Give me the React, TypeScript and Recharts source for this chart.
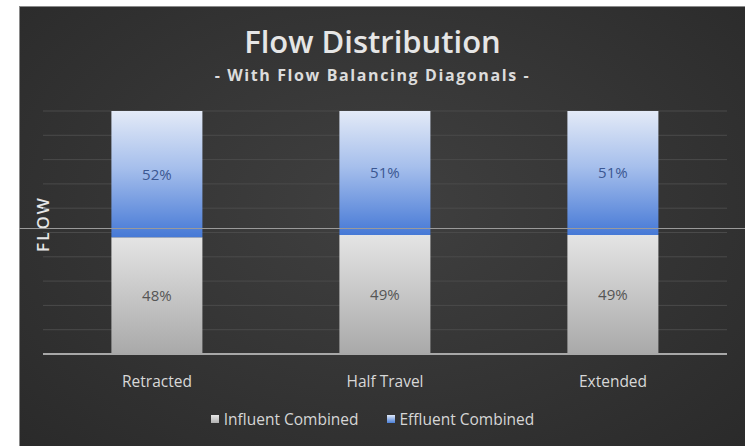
import React from 'react';
import { BarChart, Bar, XAxis, YAxis, CartesianGrid, LabelList } from 'recharts';

const categories = ['Retracted', 'Half Travel', 'Extended'];
const influent = [48, 49, 49];
const effluent = [52, 51, 51];
const seriesNames = ['Influent Combined', 'Effluent Combined'];
const yTicks = [0, 10, 20, 30, 40, 50, 60, 70, 80, 90, 100];

const data = categories.map((c, i) => ({ name: c, influent: influent[i], effluent: effluent[i] }));

const FONT = '"Open Sans", "Liberation Sans", sans-serif';

const LegendContent = () => (
  <div style={{ display: 'flex', justifyContent: 'center', gap: 28, fontFamily: FONT, fontSize: 15.5, color: '#d6d6d6' }}>
    <div style={{ display: 'flex', alignItems: 'center' }}>
      <span style={{ width: 8, height: 8, background: 'linear-gradient(#e6e6e6,#b0b0b0)', marginRight: 5, display: 'inline-block' }} />
      {seriesNames[0]}
    </div>
    <div style={{ display: 'flex', alignItems: 'center' }}>
      <span style={{ width: 8, height: 8, background: 'linear-gradient(#dfe8f8,#4a7fd8)', marginRight: 5, display: 'inline-block' }} />
      {seriesNames[1]}
    </div>
  </div>
);

const NoTick = () => <g />;

export default function App() {
  return (
    <div style={{ position: 'absolute', left: 0, top: 0, width: 745, height: 446, background: '#fff', overflow: 'hidden' }}>
      <div
        style={{
          position: 'absolute',
          left: 19,
          top: 6,
          width: 726,
          height: 440,
          borderTop: '1px solid #8a8a8a',
          borderLeft: '1px solid #8a8a8a',
          background: 'radial-gradient(ellipse at 50% 45%, #404040 0%, #353535 50%, #2a2a2a 100%)',
        }}
      />
      <div
        style={{
          position: 'absolute',
          left: 0,
          width: 745,
          top: 20,
          textAlign: 'center',
          fontFamily: FONT,
          fontSize: 31,
          fontWeight: 600,
          color: '#e6e6e6',
        }}
      >
        Flow Distribution
      </div>
      <div
        style={{
          position: 'absolute',
          left: 0,
          width: 745,
          top: 64,
          textAlign: 'center',
          fontFamily: FONT,
          fontSize: 16,
          fontWeight: 700,
          letterSpacing: 1.6,
          color: '#dcdcdc',
        }}
      >
        - With Flow Balancing Diagonals -
      </div>
      <div
        style={{
          position: 'absolute',
          left: 42,
          top: 224,
          transform: 'translate(-50%, -50%) rotate(-90deg)',
          fontFamily: FONT,
          fontSize: 17,
          fontWeight: 600,
          letterSpacing: 2,
          color: '#e6e6e6',
          whiteSpace: 'nowrap',
        }}
      >
        FLOW
      </div>
      <div style={{ position: 'absolute', left: 0, top: 0 }}>
        <BarChart
          width={745}
          height={446}
          data={data}
          margin={{ top: 111, right: 18, bottom: 62, left: 43 }}
          barCategoryGap="30%"
        >
          <defs>
            <linearGradient id="gInf" x1="0" y1="0" x2="0" y2="1">
              <stop offset="0%" stopColor="#e4e4e4" />
              <stop offset="100%" stopColor="#a9a9a9" />
            </linearGradient>
            <linearGradient id="gEff" x1="0" y1="0" x2="0" y2="1">
              <stop offset="0%" stopColor="#e3eaf7" />
              <stop offset="45%" stopColor="#a6bfec" />
              <stop offset="100%" stopColor="#4679d6" />
            </linearGradient>
          </defs>
          <CartesianGrid vertical={false} stroke="#4a4a4a" strokeWidth={1} />
          <XAxis
            dataKey="name"
            height={30}
            axisLine={{ stroke: '#a8a8a8', strokeWidth: 2 }}
            tickLine={false}
            tickMargin={16}
            tick={{ fill: '#d8d8d8', fontSize: 15.5, fontFamily: FONT }}
          />
          <YAxis width={0} domain={[0, 100]} ticks={yTicks} tickCount={11} tick={<NoTick />} axisLine={false} tickLine={false} />
          <Bar dataKey="influent" stackId="a" fill="url(#gInf)" isAnimationActive={false}>
            <LabelList
              dataKey="influent"
              position="center"
              formatter={(v: number) => `${v}%`}
              style={{ fill: '#555', fontSize: 15, fontFamily: FONT }}
            />
          </Bar>
          <Bar dataKey="effluent" stackId="a" fill="url(#gEff)" isAnimationActive={false}>
            <LabelList
              dataKey="effluent"
              position="center"
              formatter={(v: number) => `${v}%`}
              style={{ fill: '#3b5792', fontSize: 15, fontFamily: FONT }}
            />
          </Bar>
        </BarChart>
      </div>
      <div style={{ position: 'absolute', left: 0, width: 745, top: 408 }}>
        <LegendContent />
      </div>
      <div style={{ position: 'absolute', left: 19, top: 228, width: 726, height: 1, background: '#9a9a9a' }} />
    </div>
  );
}
